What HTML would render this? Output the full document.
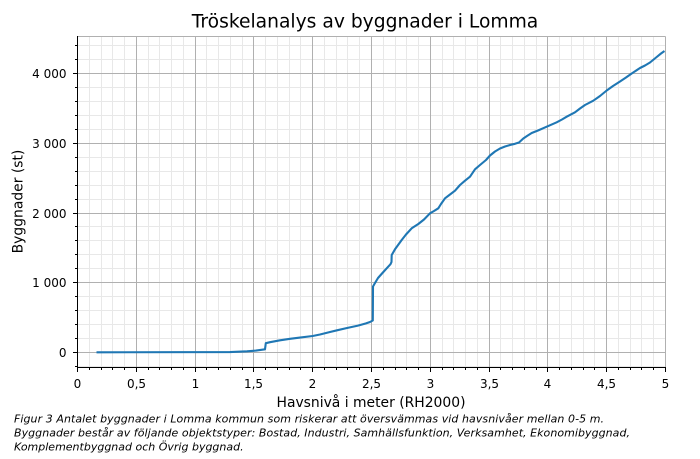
<!DOCTYPE html>
<html><head><meta charset="utf-8"><style>
html,body{margin:0;padding:0;background:#fff;}
svg{display:block;}
text{font-family:"DejaVu Sans","Liberation Sans",sans-serif;fill:#000;}
</style></head><body>
<svg width="700" height="459" viewBox="0 0 700 459" xmlns="http://www.w3.org/2000/svg">
<rect width="700" height="459" fill="#fff"/>
<!-- minor grid -->
<g stroke="#e8e8e8" stroke-width="1">
<path d="M89.5 36.5V367.5M101.5 36.5V367.5M112.5 36.5V367.5M124.5 36.5V367.5M148.5 36.5V367.5M159.5 36.5V367.5M171.5 36.5V367.5M183.5 36.5V367.5M206.5 36.5V367.5M218.5 36.5V367.5M230.5 36.5V367.5M242.5 36.5V367.5M265.5 36.5V367.5M277.5 36.5V367.5M289.5 36.5V367.5M300.5 36.5V367.5M324.5 36.5V367.5M336.5 36.5V367.5M347.5 36.5V367.5M359.5 36.5V367.5M383.5 36.5V367.5M395.5 36.5V367.5M406.5 36.5V367.5M418.5 36.5V367.5M442.5 36.5V367.5M453.5 36.5V367.5M465.5 36.5V367.5M477.5 36.5V367.5M500.5 36.5V367.5M512.5 36.5V367.5M524.5 36.5V367.5M536.5 36.5V367.5M559.5 36.5V367.5M571.5 36.5V367.5M583.5 36.5V367.5M594.5 36.5V367.5M618.5 36.5V367.5M630.5 36.5V367.5M641.5 36.5V367.5M653.5 36.5V367.5"/>
<path d="M77.5 366.5H665.5M77.5 338.5H665.5M77.5 324.5H665.5M77.5 310.5H665.5M77.5 296.5H665.5M77.5 268.5H665.5M77.5 254.5H665.5M77.5 240.5H665.5M77.5 226.5H665.5M77.5 199.5H665.5M77.5 185.5H665.5M77.5 171.5H665.5M77.5 157.5H665.5M77.5 129.5H665.5M77.5 115.5H665.5M77.5 101.5H665.5M77.5 87.5H665.5M77.5 59.5H665.5M77.5 45.5H665.5"/>
</g>
<!-- major grid -->
<g stroke="#b0b0b0" stroke-width="1">
<path d="M77.5 36.5V367.5M136.5 36.5V367.5M195.5 36.5V367.5M253.5 36.5V367.5M312.5 36.5V367.5M371.5 36.5V367.5M430.5 36.5V367.5M489.5 36.5V367.5M547.5 36.5V367.5M606.5 36.5V367.5M665.5 36.5V367.5"/>
<path d="M77.5 352.5H665.5M77.5 282.5H665.5M77.5 213.5H665.5M77.5 143.5H665.5M77.5 73.5H665.5"/>
<path d="M77.5 36.5H665.5"/>
</g>
<!-- data -->
<defs><clipPath id="c"><rect x="77.5" y="36.5" width="588" height="331"/></clipPath></defs>
<path clip-path="url(#c)" fill="none" stroke="#1f77b4" stroke-width="2.1" stroke-linejoin="round" stroke-linecap="butt"
d="M96.5,352.3 L230,352.1 L247,351.3 L256,350.6 L265,349.3 L265.8,343.2 L270,342.2 L280,340.3 L290,338.8 L300,337.6 L312.7,336 L320,334.5 L330,332 L337,330.3 L347,328 L358,325.6 L366,323.4 L370,322 L372.8,320.5 L373,286.5 L375,283 L378,278 L382,273.5 L386.7,268.3 L390.5,264.2 L391.5,262 L391.7,255 L395,249.3 L401.7,240 L406,234.5 L411.7,228.3 L418.3,224 L424,219.5 L430,213.3 L434,211 L438.3,208.3 L441,204 L445,198.3 L450,194.5 L455,190.7 L460,185 L465,180.7 L470,176.7 L475,169.3 L480,165 L486,160 L490,155.5 L495,151.5 L500,148.5 L505,146.5 L510,145 L515,143.8 L519,142.5 L523.3,138.5 L527,136 L531.7,133 L538,130.5 L546.7,126.7 L551,124.8 L556.7,122.3 L562,119.5 L566.7,116.7 L575,112.3 L580,108.5 L585,105 L593.3,100.7 L600,96 L606.7,90.5 L613,86 L620,81.5 L626,77.5 L631.7,73.5 L640,68 L645,65.5 L650,62.5 L656.7,57 L661,53.5 L664.5,51"/>
<!-- spines -->
<path d="M665.5 36.5V367.5" stroke="#b0b0b0" stroke-width="1"/>
<path d="M77.5 36V367.5H666" stroke="#000" stroke-width="1" fill="none"/>
<!-- ticks -->
<g stroke="#000" stroke-width="1">
<path d="M77.5 367.5v4.5M136.5 367.5v4.5M195.5 367.5v4.5M253.5 367.5v4.5M312.5 367.5v4.5M371.5 367.5v4.5M430.5 367.5v4.5M489.5 367.5v4.5M547.5 367.5v4.5M606.5 367.5v4.5M665.5 367.5v4.5"/>
<path d="M89.5 367.5v2.5M101.5 367.5v2.5M112.5 367.5v2.5M124.5 367.5v2.5M148.5 367.5v2.5M159.5 367.5v2.5M171.5 367.5v2.5M183.5 367.5v2.5M206.5 367.5v2.5M218.5 367.5v2.5M230.5 367.5v2.5M242.5 367.5v2.5M265.5 367.5v2.5M277.5 367.5v2.5M289.5 367.5v2.5M300.5 367.5v2.5M324.5 367.5v2.5M336.5 367.5v2.5M347.5 367.5v2.5M359.5 367.5v2.5M383.5 367.5v2.5M395.5 367.5v2.5M406.5 367.5v2.5M418.5 367.5v2.5M442.5 367.5v2.5M453.5 367.5v2.5M465.5 367.5v2.5M477.5 367.5v2.5M500.5 367.5v2.5M512.5 367.5v2.5M524.5 367.5v2.5M536.5 367.5v2.5M559.5 367.5v2.5M571.5 367.5v2.5M583.5 367.5v2.5M594.5 367.5v2.5M618.5 367.5v2.5M630.5 367.5v2.5M641.5 367.5v2.5M653.5 367.5v2.5"/>
<path d="M77.5 352.5h-4.5M77.5 282.5h-4.5M77.5 213.5h-4.5M77.5 143.5h-4.5M77.5 73.5h-4.5"/>
<path d="M77.5 366.5h-2.5M77.5 338.5h-2.5M77.5 324.5h-2.5M77.5 310.5h-2.5M77.5 296.5h-2.5M77.5 268.5h-2.5M77.5 254.5h-2.5M77.5 240.5h-2.5M77.5 226.5h-2.5M77.5 199.5h-2.5M77.5 185.5h-2.5M77.5 171.5h-2.5M77.5 157.5h-2.5M77.5 129.5h-2.5M77.5 115.5h-2.5M77.5 101.5h-2.5M77.5 87.5h-2.5M77.5 59.5h-2.5M77.5 45.5h-2.5"/>
</g>
<!-- y tick labels -->
<g font-size="12" text-anchor="end">
<text x="66.5" y="357">0</text>
<text x="66.5" y="287">1 000</text>
<text x="66.5" y="218">2 000</text>
<text x="66.5" y="148">3 000</text>
<text x="66.5" y="78">4 000</text>
</g>
<!-- x tick labels -->
<g font-size="12" text-anchor="middle">
<text x="77.5" y="388">0</text>
<text x="136.5" y="388">0,5</text>
<text x="195.5" y="388">1</text>
<text x="253.5" y="388">1,5</text>
<text x="312.5" y="388">2</text>
<text x="371.5" y="388">2,5</text>
<text x="430.5" y="388">3</text>
<text x="489.5" y="388">3,5</text>
<text x="547.5" y="388">4</text>
<text x="606.5" y="388">4,5</text>
<text x="665.5" y="388">5</text>
</g>
<!-- axis labels -->
<text x="371" y="407" font-size="13.9" text-anchor="middle">Havsnivå i meter (RH2000)</text>
<text transform="translate(22.5,201.5) rotate(-90)" font-size="13.9" text-anchor="middle">Byggnader (st)</text>
<!-- title -->
<text x="365" y="27.5" font-size="18.7" text-anchor="middle">Tröskelanalys av byggnader i Lomma</text>
<!-- caption -->
<g font-size="11" font-style="italic">
<text x="14" y="422.3" textLength="590" lengthAdjust="spacing">Figur 3 Antalet byggnader i Lomma kommun som riskerar att översvämmas vid havsnivåer mellan 0-5 m.</text>
<text x="14" y="436.6" textLength="616" lengthAdjust="spacing">Byggnader består av följande objektstyper: Bostad, Industri, Samhällsfunktion, Verksamhet, Ekonomibyggnad,</text>
<text x="14" y="450.7">Komplementbyggnad och Övrig byggnad.</text>
</g>
</svg>
</body></html>
